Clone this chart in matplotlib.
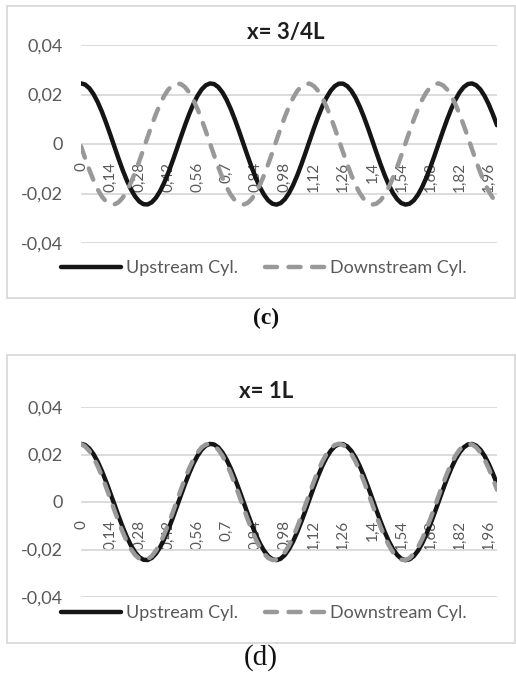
import matplotlib
matplotlib.use("Agg")
import matplotlib.pyplot as plt
from matplotlib.patches import Rectangle
import numpy as np

W, H = 516, 674

# ---- data ----
time = np.round(np.arange(101) * 0.02, 2)   # category axis 0 ... 2.0

upstream_c = [0.02450, 0.02401, 0.02255, 0.02018, 0.01699, 0.01313, 0.00873, 0.00398, -0.00092, -0.00579,
              -0.01043, -0.01465, -0.01828, -0.02117, -0.02320, -0.02431, -0.02443, -0.02357, -0.02176, -0.01907,
              -0.01562, -0.01153, -0.00698, -0.00215, 0.00277, 0.00757, 0.01207, 0.01609, 0.01945, 0.02204,
              0.02373, 0.02447, 0.02422, 0.02300, 0.02085, 0.01786, 0.01415, 0.00987, 0.00519, 0.00031,
              -0.00459, -0.00930, -0.01364, -0.01743, -0.02052, -0.02278, -0.02412, -0.02449, -0.02388, -0.02230,
              -0.01982, -0.01655, -0.01260, -0.00815, -0.00338, 0.00154, 0.00639, 0.01099, 0.01514, 0.01868,
              0.02147, 0.02339, 0.02438, 0.02438, 0.02339, 0.02147, 0.01868, 0.01514, 0.01099, 0.00639,
              0.00154, -0.00338, -0.00815, -0.01260, -0.01655, -0.01982, -0.02230, -0.02388, -0.02449, -0.02412,
              -0.02278, -0.02052, -0.01743, -0.01364, -0.00930, -0.00459, 0.00031, 0.00519, 0.00987, 0.01415,
              0.01786, 0.02085, 0.02300, 0.02422, 0.02447, 0.02373, 0.02204, 0.01945, 0.01609, 0.01207,
              0.00757]

downstream_c = [-0.00092, -0.00579, -0.01043, -0.01465, -0.01828, -0.02117, -0.02320, -0.02431, -0.02443, -0.02357,
                -0.02176, -0.01907, -0.01562, -0.01153, -0.00698, -0.00215, 0.00277, 0.00757, 0.01207, 0.01609,
                0.01945, 0.02204, 0.02373, 0.02447, 0.02422, 0.02300, 0.02085, 0.01786, 0.01415, 0.00987,
                0.00519, 0.00031, -0.00459, -0.00930, -0.01364, -0.01743, -0.02052, -0.02278, -0.02412, -0.02449,
                -0.02388, -0.02230, -0.01982, -0.01655, -0.01260, -0.00815, -0.00338, 0.00154, 0.00639, 0.01099,
                0.01514, 0.01868, 0.02147, 0.02339, 0.02438, 0.02438, 0.02339, 0.02147, 0.01868, 0.01514,
                0.01099, 0.00639, 0.00154, -0.00338, -0.00815, -0.01260, -0.01655, -0.01982, -0.02230, -0.02388,
                -0.02449, -0.02412, -0.02278, -0.02052, -0.01743, -0.01364, -0.00930, -0.00459, 0.00031, 0.00519,
                0.00987, 0.01415, 0.01786, 0.02085, 0.02300, 0.02422, 0.02447, 0.02373, 0.02204, 0.01945,
                0.01609, 0.01207, 0.00757, 0.00277, -0.00215, -0.00698, -0.01153, -0.01562, -0.01907, -0.02176,
                -0.02357]

upstream_d = [0.02450, 0.02401, 0.02255, 0.02018, 0.01699, 0.01313, 0.00873, 0.00398, -0.00092, -0.00579,
              -0.01043, -0.01465, -0.01828, -0.02117, -0.02320, -0.02431, -0.02443, -0.02357, -0.02176, -0.01907,
              -0.01562, -0.01153, -0.00698, -0.00215, 0.00277, 0.00757, 0.01207, 0.01609, 0.01945, 0.02204,
              0.02373, 0.02447, 0.02422, 0.02300, 0.02085, 0.01786, 0.01415, 0.00987, 0.00519, 0.00031,
              -0.00459, -0.00930, -0.01364, -0.01743, -0.02052, -0.02278, -0.02412, -0.02449, -0.02388, -0.02230,
              -0.01982, -0.01655, -0.01260, -0.00815, -0.00338, 0.00154, 0.00639, 0.01099, 0.01514, 0.01868,
              0.02147, 0.02339, 0.02438, 0.02438, 0.02339, 0.02147, 0.01868, 0.01514, 0.01099, 0.00639,
              0.00154, -0.00338, -0.00815, -0.01260, -0.01655, -0.01982, -0.02230, -0.02388, -0.02449, -0.02412,
              -0.02278, -0.02052, -0.01743, -0.01364, -0.00930, -0.00459, 0.00031, 0.00519, 0.00987, 0.01415,
              0.01786, 0.02085, 0.02300, 0.02422, 0.02447, 0.02373, 0.02204, 0.01945, 0.01609, 0.01207,
              0.00757]

downstream_d = [0.02438, 0.02339, 0.02147, 0.01868, 0.01514, 0.01099, 0.00639, 0.00154, -0.00338, -0.00815,
                -0.01260, -0.01655, -0.01982, -0.02230, -0.02388, -0.02449, -0.02412, -0.02278, -0.02052, -0.01743,
                -0.01364, -0.00930, -0.00459, 0.00031, 0.00519, 0.00987, 0.01415, 0.01786, 0.02085, 0.02300,
                0.02422, 0.02447, 0.02373, 0.02204, 0.01945, 0.01609, 0.01207, 0.00757, 0.00277, -0.00215,
                -0.00698, -0.01153, -0.01562, -0.01907, -0.02176, -0.02357, -0.02443, -0.02431, -0.02320, -0.02117,
                -0.01828, -0.01465, -0.01043, -0.00579, -0.00092, 0.00398, 0.00873, 0.01313, 0.01699, 0.02018,
                0.02255, 0.02401, 0.02450, 0.02401, 0.02255, 0.02018, 0.01699, 0.01313, 0.00873, 0.00398,
                -0.00092, -0.00579, -0.01043, -0.01465, -0.01828, -0.02117, -0.02320, -0.02431, -0.02443, -0.02357,
                -0.02176, -0.01907, -0.01562, -0.01153, -0.00698, -0.00215, 0.00277, 0.00757, 0.01207, 0.01609,
                0.01945, 0.02204, 0.02373, 0.02447, 0.02422, 0.02300, 0.02085, 0.01786, 0.01415, 0.00987,
                0.00519]

xtick_values = [0, 0.14, 0.28, 0.42, 0.56, 0.7, 0.84, 0.98, 1.12, 1.26, 1.4, 1.54, 1.68, 1.82, 1.96]
xtick_labels = ["0", "0,14", "0,28", "0,42", "0,56", "0,7", "0,84", "0,98", "1,12", "1,26",
                "1,4", "1,54", "1,68", "1,82", "1,96"]
ytick_values = [-0.04, -0.02, 0, 0.02, 0.04]
ytick_labels = ["-0,04", "-0,02", "0", "0,02", "0,04"]
series_names = ["Upstream Cyl.", "Downstream Cyl."]
titles = ["x= 3/4L", "x= 1L"]
captions = ["(c)", "(d)"]

# ---- styling ----
FONT = "Lato"
GREY_TXT = "#595959"
GRID = "#d9d9d9"
UP_COLOR = "#151515"
DOWN_COLOR = "#999999"

fig = plt.figure(figsize=(W / 100, H / 100), dpi=100)


def rect(x0, y0, x1, y1):
    return [x0 / W, 1 - y1 / H, (x1 - x0) / W, (y1 - y0) / H]


def fx(x):
    return x / W


def fy(y):
    return 1 - y / H


panels = [
    dict(up=upstream_c, down=downstream_c, area=(81, 45, 497, 243), border=(7, 6, 515, 298),
         title_xy=(286, 33), legend_xy=(61, 268), cap_xy=(266, 318), cap_size=17, cap_weight="bold"),
    dict(up=upstream_d, down=downstream_d, area=(81, 407, 497, 597), border=(7, 355, 515, 643),
         title_xy=(266, 392), legend_xy=(61, 613), cap_xy=(261, 658), cap_size=21, cap_weight="normal"),
]

for i, p in enumerate(panels):
    bx0, by0, bx1, by1 = p["border"]
    fig.patches.append(Rectangle((fx(bx0), fy(by1)), (bx1 - bx0) / W, (by1 - by0) / H,
                                 transform=fig.transFigure, fill=False, edgecolor=GRID, lw=1.3))

    ax = fig.add_axes(rect(*p["area"]))
    for s in ax.spines.values():
        s.set_visible(False)
    ax.spines["bottom"].set_position(("data", 0))
    ax.set_xlim(time[0], time[-1])
    ax.set_ylim(-0.04, 0.04)
    ax.set_yticks(ytick_values)
    ax.set_yticklabels(ytick_labels, fontfamily=FONT, fontsize=13, color=GREY_TXT)
    ax.set_xticks(xtick_values)
    ax.set_xticklabels(xtick_labels, fontfamily=FONT, fontsize=11, color=GREY_TXT,
                       rotation=90, ha="center", va="top")
    ax.tick_params(axis="y", length=0, pad=13)
    ax.tick_params(axis="x", length=0, pad=13)
    ax.yaxis.grid(True, color=GRID, lw=1.3)
    ax.set_axisbelow(True)
    ax.patch.set_alpha(0)

    l1, = ax.plot(time, p["up"], color=UP_COLOR, lw=3.2, solid_capstyle="round",
                  solid_joinstyle="round", zorder=3, label=series_names[0])
    l2, = ax.plot(time, p["down"], color=DOWN_COLOR, lw=3.2, dashes=(2.7, 2.6),
                  dash_capstyle="round", zorder=4, label=series_names[1])

    fig.text(fx(p["title_xy"][0]), fy(p["title_xy"][1]), titles[i], ha="center", va="center",
             fontfamily=FONT, fontsize=16, fontweight="bold", color="#1e1e1e")

    fs = 13
    fspx = fs * 100 / 72
    fig.legend(handles=[l1, l2], loc="center left",
               bbox_to_anchor=(fx(p["legend_xy"][0]), fy(p["legend_xy"][1])),
               ncol=2, frameon=False, borderpad=0, borderaxespad=0,
               handlelength=60 / fspx, handletextpad=5 / fspx, columnspacing=27 / fspx,
               prop=dict(family=FONT, size=fs), labelcolor=GREY_TXT)

    fig.text(fx(p["cap_xy"][0]), fy(p["cap_xy"][1]), captions[i], ha="center", va="center",
             fontfamily="Liberation Serif", fontsize=p["cap_size"], fontweight=p["cap_weight"],
             color="#111111")

fig.savefig("out.png", dpi=100)
